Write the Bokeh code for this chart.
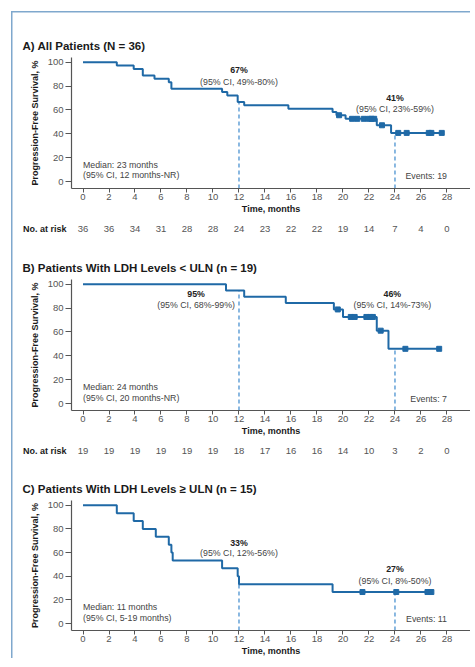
from bokeh.plotting import figure
from bokeh.layouts import column
from bokeh.models import Range1d, FixedTicker
from bokeh.core.properties import value
from bokeh.embed import file_html
from bokeh.resources import INLINE

# ---------------- data ----------------
month_ticks = list(range(0, 29, 2))
pfs_ticks = [0, 20, 40, 60, 80, 100]

# Panel A: All patients (N = 36)
a_title = "A) All Patients (N = 36)"
a_time = [0, 2.6, 3.9, 4.6, 5.5, 6.6, 6.8, 10.7, 11.1, 11.9, 12.4, 15.8, 19.2, 19.5, 20.2, 22.6, 23.7, 27.6]
a_surv = [100, 97.2, 94.4, 88.9, 86.1, 83.3, 77.8, 75.0, 72.2, 66.7, 63.9, 61.1, 58.3, 55.6, 52.6, 47.2, 40.8, 40.8]
a_cens_t = [19.7, 20.7, 21.1, 21.6, 22.0, 22.2, 22.4, 23.0, 24.25, 24.9, 26.6, 26.8, 27.6]
a_cens_s = [55.6, 52.6, 52.6, 52.6, 52.6, 52.6, 52.6, 47.2, 40.8, 40.8, 40.8, 40.8, 40.8]
a_land_t = [12, 24]
a_land_s = [66.7, 40.8]
a_land_pct = ["67%", "41%"]
a_land_ci = ["(95% CI, 49%-80%)", "(95% CI, 23%-59%)"]
a_median = ["Median: 23 months", "(95% CI, 12 months-NR)"]
a_events = "Events: 19"
a_risk = [36, 36, 34, 31, 28, 28, 24, 23, 22, 22, 19, 14, 7, 4, 0]

# Panel B: LDH < ULN (n = 19)
b_title = "B) Patients With LDH Levels < ULN (n = 19)"
b_time = [0, 11.0, 12.4, 15.6, 19.3, 20.0, 22.6, 23.5, 27.4]
b_surv = [100, 94.7, 89.5, 84.2, 78.9, 72.6, 61.1, 45.9, 45.9]
b_cens_t = [19.6, 20.6, 20.9, 21.8, 22.1, 22.3, 22.9, 24.8, 27.4]
b_cens_s = [78.9, 72.6, 72.6, 72.6, 72.6, 72.6, 61.1, 45.9, 45.9]
b_land_t = [12, 24]
b_land_s = [94.7, 45.9]
b_land_pct = ["95%", "46%"]
b_land_ci = ["(95% CI, 68%-99%)", "(95% CI, 14%-73%)"]
b_median = ["Median: 24 months", "(95% CI, 20 months-NR)"]
b_events = "Events: 7"
b_risk = [19, 19, 19, 19, 19, 19, 18, 17, 16, 16, 14, 10, 3, 2, 0]

# Panel C: LDH >= ULN (n = 15)
c_title = "C) Patients With LDH Levels \u2265 ULN (n = 15)"
c_time = [0, 2.6, 3.9, 4.6, 5.6, 6.6, 6.8, 6.9, 10.7, 11.9, 12.0, 19.2, 26.8]
c_surv = [100, 93.3, 86.7, 80.0, 73.3, 66.7, 60.0, 53.3, 46.7, 40.0, 33.3, 26.7, 26.7]
c_cens_t = [21.5, 24.1, 26.5, 26.8]
c_cens_s = [26.7, 26.7, 26.7, 26.7]
c_land_t = [12, 24]
c_land_s = [33.3, 26.7]
c_land_pct = ["33%", "27%"]
c_land_ci = ["(95% CI, 12%-56%)", "(95% CI, 8%-50%)"]
c_median = ["Median: 11 months", "(95% CI, 5-19 months)"]
c_events = "Events: 11"

# ---------------- styling / layout ----------------
FONT = "Liberation Sans"
BLUE = "#1f69a6"
DASH = "#4b92d0"
BOX = "#7fa8cd"
TICK_COL = "#555555"
W = 470
LEFT = 71
FRAME_H = 133
X0, X1 = -0.885, 29.81
Y0, Y1 = -5.8, 104


def km_panel(title, t, s, ct, cs, lt, ls, lpct, lci, lpos, median, med_y, events, ev_y,
             top, bottom):
    p = figure(width=W, height=top + FRAME_H + bottom,
               x_range=Range1d(X0, X1), y_range=Range1d(Y0, Y1),
               output_backend="svg", toolbar_location=None,
               min_border_left=LEFT, min_border_right=0,
               min_border_top=top, min_border_bottom=bottom)
    p.outline_line_color = None
    p.border_fill_color = None
    p.grid.grid_line_color = None
    p.title.text = title
    p.title.text_font = FONT
    p.title.text_font_size = "11.5px"
    p.title.text_font_style = "bold"
    p.title.text_color = "#1a1a1a"
    p.title.offset = -(LEFT - 22)
    p.title.standoff = 11

    for ax in (p.xaxis[0], p.yaxis[0]):
        ax.axis_line_color = "#555555"
        ax.axis_line_width = 1.2
        ax.major_tick_line_color = "#555555"
        ax.major_tick_in = 0
        ax.minor_tick_line_color = None
        ax.major_label_text_font = FONT
        ax.major_label_text_font_size = "9.5px"
        ax.major_label_text_color = TICK_COL
        ax.axis_label_text_font = FONT
        ax.axis_label_text_font_size = "9px"
        ax.axis_label_text_font_style = "bold"
        ax.axis_label_text_color = "#1a1a1a"
    p.xaxis.ticker = FixedTicker(ticks=month_ticks)
    p.yaxis.ticker = FixedTicker(ticks=pfs_ticks)
    p.xaxis.major_tick_out = 4
    p.yaxis.major_tick_out = 6
    p.xaxis.major_label_standoff = 1
    p.yaxis.major_label_standoff = 2
    p.xaxis.axis_label = "Time, months"
    p.xaxis.axis_label_standoff = 1
    p.yaxis.axis_label = "Progression-Free Survival, %"
    p.yaxis.axis_label_standoff = 5

    p.segment(x0=lt, y0=[Y0] * len(lt), x1=lt, y1=ls, line_color=DASH,
              line_width=1.3, line_dash="4 3")
    p.step(x=t, y=s, mode="after", line_color=BLUE, line_width=2)
    p.scatter(x=ct, y=cs, marker="square", size=5, color=BLUE)

    (px, py_pct, py_ci) = lpos
    p.text(x=px, y=py_pct, text=lpct, text_align="center", text_baseline="middle",
           text_font=value(FONT), text_font_size="8.8px", text_font_style="bold",
           text_color="#222222")
    p.text(x=px, y=py_ci, text=lci, text_align="center", text_baseline="middle",
           text_font=value(FONT), text_font_size="8.8px", text_color="#444444")
    p.text(x=[0, 0], y=med_y, text=median, text_align="left", text_baseline="middle",
           text_font=value(FONT), text_font_size="8.8px", text_color="#444444")
    p.text(x=[28], y=[ev_y], text=[events], text_align="right", text_baseline="middle",
           text_font=value(FONT), text_font_size="8.8px", text_color="#444444")
    return p


def risk_row(counts):
    r = figure(width=W, height=24, x_range=Range1d(X0, X1), y_range=Range1d(0, 2),
               x_axis_type=None, output_backend="svg", toolbar_location=None,
               min_border_left=LEFT, min_border_right=0, min_border_top=0,
               min_border_bottom=0)
    r.outline_line_color = None
    r.border_fill_color = None
    r.grid.grid_line_color = None
    ya = r.yaxis[0]
    ya.ticker = FixedTicker(ticks=[1])
    ya.major_label_overrides = {1: "No. at risk"}
    ya.axis_line_color = None
    ya.major_tick_line_color = None
    ya.minor_tick_line_color = None
    ya.major_tick_out = 0
    ya.major_tick_in = 0
    ya.major_label_standoff = 5
    ya.major_label_text_font = FONT
    ya.major_label_text_font_size = "9px"
    ya.major_label_text_font_style = "bold"
    ya.major_label_text_color = "#1a1a1a"
    r.text(x=month_ticks, y=[1] * len(month_ticks), text=[str(c) for c in counts],
           text_align="center", text_baseline="middle", text_font=value(FONT),
           text_font_size="9.5px", text_color=TICK_COL)
    return r


pa = km_panel(a_title, a_time, a_surv, a_cens_t, a_cens_s, a_land_t, a_land_s,
              a_land_pct, a_land_ci, ([12, 24], [93.4, 70.0], [83.7, 61.0]),
              a_median, [13.5, 5.2], a_events, 4.7, 57, 26)
ra = risk_row(a_risk)
pb = km_panel(b_title, b_time, b_surv, b_cens_t, b_cens_s, b_land_t, b_land_s,
              b_land_pct, b_land_ci, ([8.7, 23.8], [91.8, 91.8], [83.0, 82.8]),
              b_median, [13.9, 4.3], b_events, 3.8, 39, 26)
rb = risk_row(b_risk)
pc = km_panel(c_title, c_time, c_surv, c_cens_t, c_cens_s, c_land_t, c_land_s,
              c_land_pct, c_land_ci, ([12, 24], [68.5, 46.0], [59.7, 35.6]),
              c_median, [13.7, 4.7], c_events, 4.2, 38, 25)

box_line = "linear-gradient(%s, %s)" % (BOX, BOX)
layout = column(pa, ra, pb, rb, pc,
                styles={"background-color": "white",
                        "background-image": box_line + ", " + box_line,
                        "background-position": "11px 11px, 11px 11px",
                        "background-size": "1.5px 100%, 100% 1.5px",
                        "background-repeat": "no-repeat, no-repeat"})

open("out.html", "w").write(file_html(layout, INLINE))
